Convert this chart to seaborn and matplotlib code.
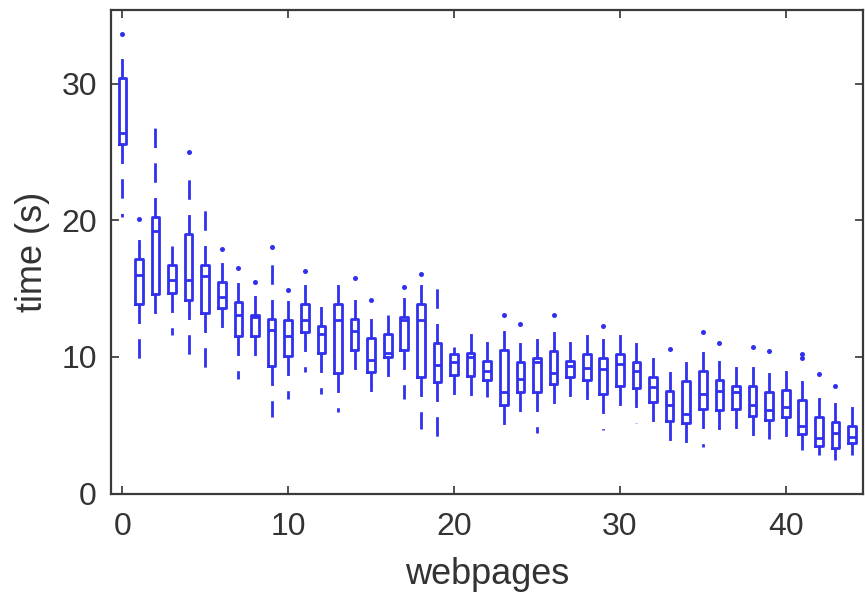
import numpy as np
import pandas as pd
import matplotlib
matplotlib.use("Agg")
import matplotlib.pyplot as plt
import seaborn as sns

# five-number summaries per webpage
pages = list(range(45))
whisker_low = [20.25, 9.5, 13.05, 11.6, 9.9, 9.0, 11.7, 8.35, 9.1, 5.6,
               6.9, 8.9, 7.3, 6.0, 8.4, 7.1, 8.06, 6.9, 4.7, 3.8,
               6.4, 6.6, 7.1, 4.5, 5.1, 4.4, 5.6, 6.6, 6.4, 4.65,
               5.6, 5.2, 4.4, 3.6, 3.3, 3.4, 4.0, 4.7, 4.1, 4.0,
               4.15, 3.2, 2.8, 2.45, 2.8]
q1 = [25.6, 13.9, 14.6, 14.65, 14.15, 13.2, 13.6, 11.5, 11.5, 9.3,
      10.06, 11.8, 10.3, 8.8, 10.5, 8.9, 9.96, 10.5, 8.5, 8.2,
      8.7, 8.6, 8.3, 6.5, 7.45, 7.45, 8.0, 8.55, 8.3, 7.3,
      7.9, 7.7, 6.7, 5.3, 5.2, 6.2, 6.1, 6.2, 5.7, 5.4,
      5.6, 4.35, 3.5, 3.3, 3.7]
median = [26.4, 16.0, 19.2, 15.6, 15.6, 15.9, 14.4, 13.1, 12.9, 11.96,
          11.5, 12.7, 11.7, 12.7, 11.9, 9.8, 10.3, 12.7, 12.7, 9.4,
          9.6, 10.0, 9.0, 7.4, 8.4, 9.6, 8.8, 9.3, 9.2, 9.15,
          9.5, 9.0, 7.8, 6.5, 5.85, 7.3, 7.5, 7.45, 6.45, 6.1,
          6.3, 4.95, 4.1, 4.45, 4.15]
q3 = [30.45, 17.2, 20.25, 16.7, 19.0, 16.7, 15.5, 14.0, 13.1, 12.8,
      12.7, 13.9, 12.3, 13.9, 12.8, 11.4, 11.7, 12.9, 13.9, 11.0,
      10.2, 10.3, 9.7, 10.5, 9.6, 9.9, 10.4, 9.7, 10.25, 9.9,
      10.25, 9.65, 8.55, 7.5, 8.25, 9.0, 8.3, 7.9, 7.85, 7.4,
      7.6, 6.85, 5.6, 5.25, 4.95]
whisker_high = [32.2, 18.8, 27.3, 18.1, 23.5, 21.2, 17.3, 15.9, 14.9, 17.6,
                14.35, 15.6, 13.9, 15.6, 14.5, 13.05, 13.05, 14.6, 15.7, 15.2,
                10.7, 12.3, 11.3, 12.2, 11.2, 12.0, 12.0, 11.5, 12.2, 11.7,
                11.9, 11.3, 10.55, 9.15, 9.8, 10.55, 9.8, 9.6, 9.65, 9.15,
                9.15, 8.4, 7.4, 6.95, 6.95]

outlier_pages = [0, 1, 4, 6, 7, 8, 9, 10, 11, 14, 15, 17, 18, 23, 24, 26, 29,
                 33, 35, 36, 38, 39, 41, 41, 42, 43]
outlier_times = [33.66, 20.1, 25.0, 17.9, 16.5, 15.5, 18.05, 14.9, 16.3, 15.8,
                 14.15, 15.1, 16.06, 13.05, 12.4, 13.1, 12.25, 10.55, 11.8,
                 11.0, 10.7, 10.45, 10.2, 9.95, 8.75, 7.85]

BLUE = "#3030ee"
INK = "#333333"

summary = pd.DataFrame({"page": pages, "lo": whisker_low, "q1": q1,
                        "med": median, "q3": q3, "hi": whisker_high})
df = summary.melt(id_vars="page", value_name="time")

plt.rcParams["font.family"] = ["Liberation Sans", "DejaVu Sans"]

fig = plt.figure(figsize=(8.65, 5.98), dpi=100)
ax = fig.add_axes([0.128, 0.1747, 0.8697, 0.8086])

# whiskers run from min to max of each summary; outliers drawn separately
sns.boxplot(data=df, x="page", y="time", native_scale=True, whis=(0, 100),
            width=0.46, fill=False, color=BLUE, linewidth=2, fliersize=0,
            whiskerprops={"linestyle": (0, (7, 5.5))},
            capprops={"linewidth": 0}, ax=ax)
sns.scatterplot(x=outlier_pages, y=outlier_times, color=BLUE, s=13,
                linewidth=0, legend=False, ax=ax)

ax.set_xlim(-0.70, 44.66)
ax.set_ylim(0, 35.4)
ax.set_xticks([0, 10, 20, 30, 40])
ax.set_yticks([0, 10, 20, 30])
ax.tick_params(direction="in", length=6, width=1.2, top=True, right=True,
               labelsize=23, colors=INK)
ax.tick_params(axis="x", pad=13)
ax.tick_params(axis="y", pad=10)
for sp in ax.spines.values():
    sp.set_color("#3a3a3a")
    sp.set_linewidth(1.6)

ax.set_xlabel("webpages", fontsize=26, color=INK, labelpad=11)
ax.set_ylabel("time (s)", fontsize=26, color=INK, labelpad=8)

fig.savefig("out.png", dpi=100)
